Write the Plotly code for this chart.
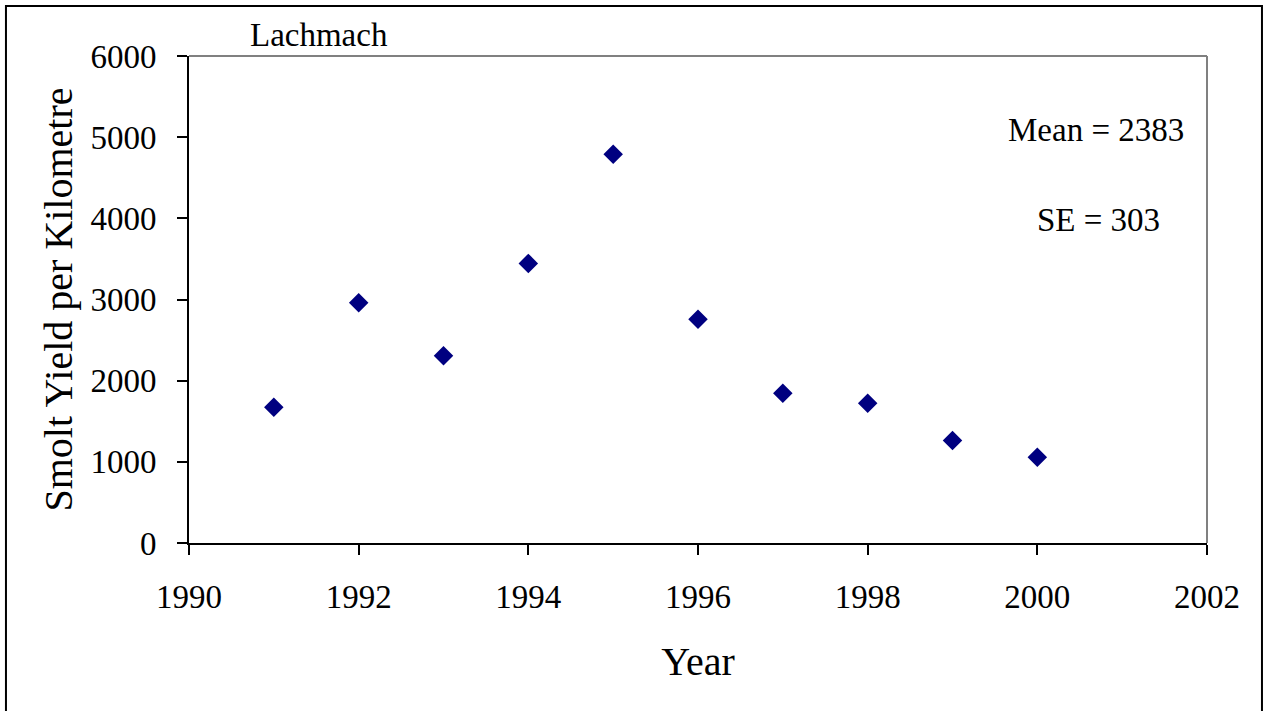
import plotly.graph_objects as go

years = [1991, 1992, 1993, 1994, 1995, 1996, 1997, 1998, 1999, 2000]
smolt_yield = [1673, 2960, 2307, 3445, 4790, 2756, 1846, 1723, 1262, 1058]
site = "Lachmach"
mean_label = "Mean = 2383"
se_label = "SE = 303"

font = "Liberation Serif, Times New Roman, serif"

fig = go.Figure()
fig.add_scatter(
    x=years, y=smolt_yield, mode="markers",
    marker=dict(symbol="diamond", size=15, color="#000080"),
    showlegend=False,
)

fig.update_layout(
    width=1265, height=711,
    margin=dict(l=189, r=58, t=56, b=168),
    paper_bgcolor="white", plot_bgcolor="white",
    font=dict(family=font, size=33, color="black"),
)
fig.update_xaxes(
    range=[1990, 2002], tickvals=list(range(1990, 2003, 2)),
    showgrid=False, zeroline=False, automargin=False,
    showline=True, linecolor="black", linewidth=2,
    ticks="outside", ticklen=10, tickwidth=2, tickcolor="black",
    ticklabelstandoff=13,
    title=dict(text="Year", standoff=33),
)
fig.update_yaxes(
    range=[0, 6000], tickvals=list(range(0, 6001, 1000)),
    showgrid=False, zeroline=False, automargin=False,
    showline=True, linecolor="black", linewidth=2,
    ticks="outside", ticklen=10, tickwidth=2, tickcolor="black",
    ticklabelstandoff=14,
    title=dict(text="Smolt Yield per Kilometre", standoff=5),
)

# gray top and right edges of the plot area
fig.add_shape(type="line", xref="paper", yref="paper", x0=0, x1=1, y0=1, y1=1,
              line=dict(color="#808080", width=2))
fig.add_shape(type="line", xref="paper", yref="paper", x0=1, x1=1, y0=0, y1=1,
              line=dict(color="#808080", width=2))
# outer frame
fig.add_shape(type="rect", xref="paper", yref="paper",
              x0=-0.1798, x1=1.054, y0=-0.36, y1=1.1027,
              line=dict(color="black", width=2))

fig.add_annotation(text=site, xref="paper", yref="paper", x=0.128, y=1.0,
                   xanchor="center", yanchor="bottom", showarrow=False, yshift=1)
fig.add_annotation(text=mean_label, xref="paper", yref="paper", x=0.891, y=0.848,
                   xanchor="center", yanchor="middle", showarrow=False)
fig.add_annotation(text=se_label, xref="paper", yref="paper", x=0.893, y=0.663,
                   xanchor="center", yanchor="middle", showarrow=False)

fig.write_html("out.html", config={"displayModeBar": False},
               post_script="document.body.style.margin='0';")
